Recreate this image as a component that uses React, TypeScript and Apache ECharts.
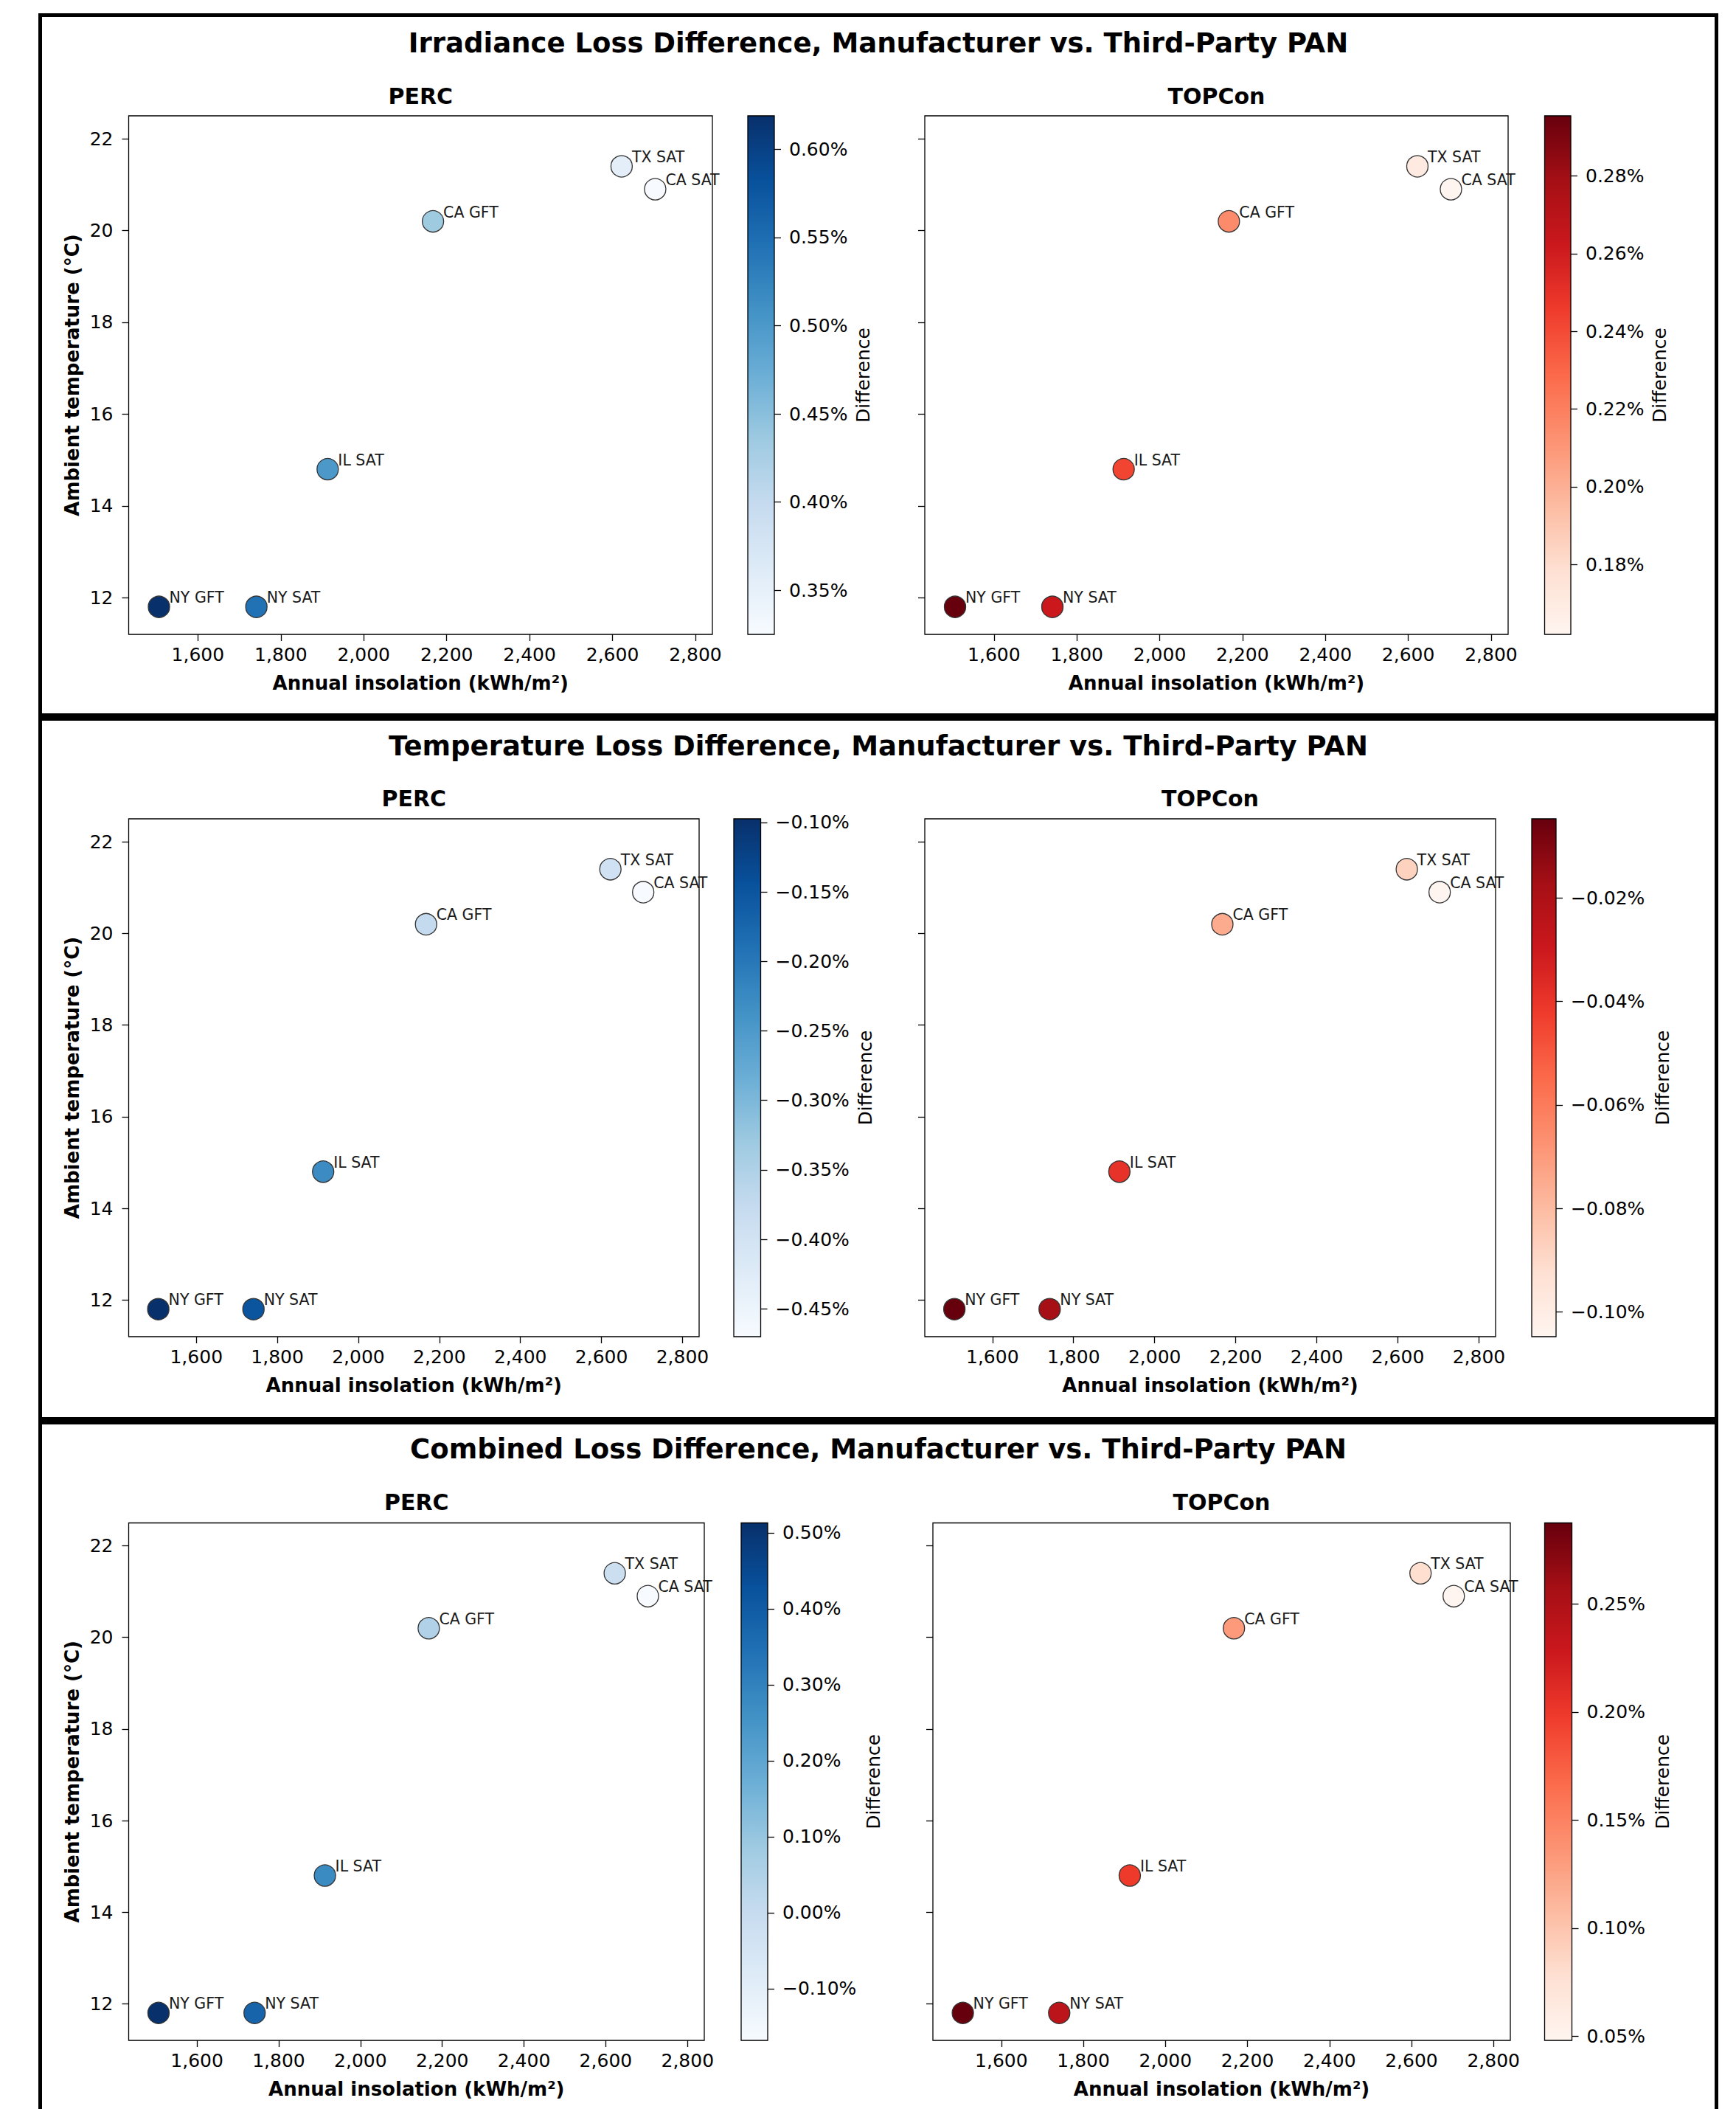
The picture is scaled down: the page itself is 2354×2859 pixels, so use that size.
import React, { useEffect, useRef } from 'react';
import * as echarts from 'echarts';

// ---------------- data ----------------
const sites = ['NY GFT', 'NY SAT', 'IL SAT', 'CA GFT', 'TX SAT', 'CA SAT'];
const insolation = [1506, 1741, 1913, 2167, 2622, 2703];
const ambientTemp = [11.8, 11.8, 14.8, 20.2, 21.4, 20.9];

const percIrradiance = [0.619, 0.545, 0.501, 0.434, 0.354, 0.325];
const topconIrradiance = [0.2955, 0.262, 0.242, 0.215, 0.171, 0.162];
const percTemperature = [-0.0974, -0.15, -0.228, -0.375, -0.395, -0.47];
const topconTemperature = [-0.0047, -0.0177, -0.039, -0.0748, -0.0878, -0.1048];
const percCombined = [0.513, 0.377, 0.275, 0.05, -0.018, -0.168];
const topconCombined = [0.2876, 0.24, 0.199, 0.132, 0.079, 0.048];

const xTicks = [1600, 1800, 2000, 2200, 2400, 2600, 2800];
const yTicks = [12, 14, 16, 18, 20, 22];
const percIrrTicks = [0.35, 0.4, 0.45, 0.5, 0.55, 0.6];
const topconIrrTicks = [0.18, 0.2, 0.22, 0.24, 0.26, 0.28];
const percTempTicks = [-0.45, -0.4, -0.35, -0.3, -0.25, -0.2, -0.15, -0.1];
const topconTempTicks = [-0.1, -0.08, -0.06, -0.04, -0.02];
const percCombTicks = [-0.1, 0.0, 0.1, 0.2, 0.3, 0.4, 0.5];
const topconCombTicks = [0.05, 0.1, 0.15, 0.2, 0.25];

const panelTitles = [
  'Irradiance Loss Difference, Manufacturer vs. Third-Party PAN',
  'Temperature Loss Difference, Manufacturer vs. Third-Party PAN',
  'Combined Loss Difference, Manufacturer vs. Third-Party PAN',
];

const X_MIN = 1433;
const X_MAX = 2841;
const Y_MIN = 11.2;
const Y_MAX = 22.5;

const BLUES = ['#f7fbff', '#deebf7', '#c6dbef', '#9ecae1', '#6baed6', '#4292c6', '#2171b5', '#08519c', '#08306b'];
const REDS = ['#fff5f0', '#fee0d2', '#fcbba1', '#fc9272', '#fb6a4a', '#ef3b2c', '#cb181d', '#a50f15', '#67000d'];

// ---------------- layout ----------------
const FONT = 'DejaVu Sans';
const panelsLayout = [
  { frameTop: 18, supY: 58, subY: 130, top: 157, height: 703,
    perc: [174.5, 791.5], cbarP: [1014, 36], gapP: 108,
    topcon: [1254, 791], cbarT: [2094.5, 35.5], gapT: 108 },
  { frameTop: 972, supY: 1011, subY: 1082, top: 1110, height: 702,
    perc: [174.5, 773.5], cbarP: [995, 36.5], gapP: 129,
    topcon: [1254, 774], cbarT: [2077, 33], gapT: 132 },
  { frameTop: 1926, supY: 1964, subY: 2036, top: 2064.5, height: 701.5,
    perc: [174.5, 780.5], cbarP: [1005, 36], gapP: 131,
    topcon: [1265, 783], cbarT: [2094.5, 37], gapT: 110 },
];

const panelData = [
  { perc: percIrradiance, topcon: topconIrradiance, percTicks: percIrrTicks, topconTicks: topconIrrTicks },
  { perc: percTemperature, topcon: topconTemperature, percTicks: percTempTicks, topconTicks: topconTempTicks },
  { perc: percCombined, topcon: topconCombined, percTicks: percCombTicks, topconTicks: topconCombTicks },
];

const fmtPct = (v: number) => (v < -1e-9 ? '\u2212' : '') + Math.abs(v).toFixed(2) + '%';
const fmtComma = (v: number) => Math.round(v).toLocaleString('en-US');

function buildOption() {
  const grid: any[] = [];
  const xAxis: any[] = [];
  const yAxis: any[] = [];
  const series: any[] = [];
  const visualMap: any[] = [];
  const graphic: any[] = [];

  const tickLabel = { fontFamily: FONT, fontSize: 25, color: '#000' };
  const lineStyle = { color: '#000', width: 1.3 };

  panelsLayout.forEach((L, pi) => {
    const D = panelData[pi];
    graphic.push({
      type: 'rect', z: 100,
      shape: { x: 54.5, y: L.frameTop + 2.5, width: 2273, height: 949 },
      style: { fill: 'none', stroke: '#000', lineWidth: 5 },
    });
    graphic.push({
      type: 'text', z: 100, x: 1191, y: L.supY,
      style: { text: panelTitles[pi], font: `bold 37px "${FONT}"`, fill: '#000',
        textAlign: 'center', align: 'center', textVerticalAlign: 'middle', verticalAlign: 'middle' },
    });

    const subplots = [
      { name: 'PERC', vals: D.perc, ticks: D.percTicks, colors: BLUES, plot: L.perc, cbar: L.cbarP, gap: L.gapP, showY: true },
      { name: 'TOPCon', vals: D.topcon, ticks: D.topconTicks, colors: REDS, plot: L.topcon, cbar: L.cbarT, gap: L.gapT, showY: false },
    ];

    subplots.forEach((sp) => {
      graphic.push({
        type: 'text', z: 100, x: sp.plot[0] + sp.plot[1] / 2, y: L.subY,
        style: { text: sp.name, font: `bold 30px "${FONT}"`, fill: '#000',
          textAlign: 'center', align: 'center', textVerticalAlign: 'middle', verticalAlign: 'middle' },
      });

      const gi = grid.length;
      grid.push({
        left: sp.plot[0], width: sp.plot[1], top: L.top, height: L.height,
        show: true, borderColor: '#000', borderWidth: 1.3, backgroundColor: 'transparent',
        containLabel: false, outerBoundsMode: 'none',
      });
      xAxis.push({
        gridIndex: gi, type: 'value', min: X_MIN, max: X_MAX,
        axisLine: { show: false, onZero: false },
        axisTick: { show: true, length: 9, lineStyle, customValues: xTicks },
        axisLabel: { ...tickLabel, customValues: xTicks, formatter: fmtComma, margin: 15 },
        splitLine: { show: false },
        name: 'Annual insolation (kWh/m\u00b2)', nameLocation: 'middle', nameGap: 53,
        nameTextStyle: { fontFamily: FONT, fontSize: 26, fontWeight: 'bold', color: '#000' },
      });
      yAxis.push({
        gridIndex: gi, type: 'value', min: Y_MIN, max: Y_MAX,
        axisLine: { show: false, onZero: false },
        axisTick: { show: true, length: 9, lineStyle, customValues: yTicks },
        axisLabel: { ...tickLabel, show: sp.showY, customValues: yTicks, margin: 21 },
        splitLine: { show: false },
        name: sp.showY ? 'Ambient temperature (\u00b0C)' : '', nameLocation: 'middle', nameRotate: 90, nameGap: 64,
        nameTextStyle: { fontFamily: FONT, fontSize: 26, fontWeight: 'bold', color: '#000' },
      });

      const vmin = Math.min(...sp.vals);
      const vmax = Math.max(...sp.vals);
      const si = series.length;
      series.push({
        type: 'scatter', xAxisIndex: gi, yAxisIndex: gi, symbolSize: 29,
        itemStyle: { borderColor: '#333', borderWidth: 1.3, opacity: 1 },
        label: {
          show: true, position: 'inside', align: 'left', verticalAlign: 'bottom', offset: [14, -2],
          formatter: '{b}', fontFamily: FONT, fontSize: 20.5, color: '#1a1a1a',
        },
        emphasis: { disabled: true },
        data: sites.map((s, i) => ({ name: s, value: [insolation[i], ambientTemp[i], sp.vals[i]] })),
      });
      visualMap.push({
        type: 'continuous', show: false, seriesIndex: si, dimension: 2,
        min: vmin, max: vmax, inRange: { color: sp.colors },
      });

      const ci = grid.length;
      grid.push({
        left: sp.cbar[0], width: sp.cbar[1], top: L.top, height: L.height,
        show: true, borderColor: '#000', borderWidth: 1.3,
        backgroundColor: {
          type: 'linear', x: 0, y: 1, x2: 0, y2: 0,
          colorStops: sp.colors.map((c, i) => ({ offset: i / (sp.colors.length - 1), color: c })),
        },
        containLabel: false, outerBoundsMode: 'none',
      });
      xAxis.push({ gridIndex: ci, type: 'value', show: false, min: 0, max: 1 });
      yAxis.push({
        gridIndex: ci, type: 'value', position: 'right', min: vmin, max: vmax,
        axisLine: { show: false, onZero: false },
        axisTick: { show: true, length: 9, lineStyle, customValues: sp.ticks },
        axisLabel: { ...tickLabel, customValues: sp.ticks, formatter: fmtPct, margin: 20 },
        splitLine: { show: false },
        name: 'Difference', nameLocation: 'middle', nameRotate: 90, nameGap: sp.gap,
        nameTextStyle: { fontFamily: FONT, fontSize: 25, color: '#000' },
      });
    });
  });

  return {
    animation: false,
    backgroundColor: '#fff',
    textStyle: { fontFamily: FONT },
    grid, xAxis, yAxis, series, visualMap, graphic,
  };
}

export default function App() {
  const ref = useRef<HTMLDivElement>(null);
  useEffect(() => {
    document.body.style.margin = '0';
    document.body.style.overflow = 'hidden';
    const chart = echarts.init(ref.current as HTMLDivElement, undefined, { renderer: 'svg' });
    chart.setOption(buildOption() as any);
    return () => chart.dispose();
  }, []);
  return (
    <div
      ref={ref}
      style={{ position: 'absolute', left: 0, top: 0, width: 2354, height: 2859, background: '#fff' }}
    />
  );
}
